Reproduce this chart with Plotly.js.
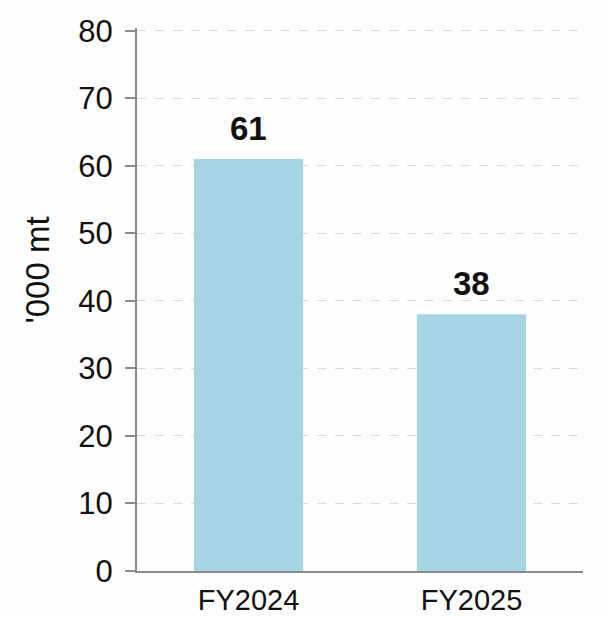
<!DOCTYPE html>
<html><head><meta charset="utf-8">
<script src="https://cdn.plot.ly/plotly-3.0.1.min.js"></script>
<style>html,body{margin:0;padding:0;background:#fdfdfd;}</style>
</head><body>
<div id="chart" style="width:608px;height:617px;"></div>
<script>
const categories = ["FY2024", "FY2025"];
const values = [61, 38];
const valueLabels = ["61", "38"];
const yTicks = [0, 10, 20, 30, 40, 50, 60, 70, 80];
const yTitle = "'000 mt";

const FONT = "'Liberation Sans', Arial, sans-serif";

const labelAnnotations = categories.map((c, i) => ({
  x: c, y: values[i], xref: "x", yref: "y",
  text: "<b>" + valueLabels[i] + "</b>",
  showarrow: false, yanchor: "bottom", yshift: 10,
  font: {family: FONT, size: 33, color: "#111"}
}));

Plotly.newPlot("chart", [{
  type: "bar",
  x: categories,
  y: values,
  marker: {color: "#a6d4e3"},
  hoverinfo: "none"
}], {
  width: 608, height: 617,
  margin: {l: 137, r: 25, t: 28, b: 46},
  paper_bgcolor: "#fdfdfd",
  plot_bgcolor: "#fdfdfd",
  bargap: 0.51,
  showlegend: false,
  font: {family: FONT, color: "#111"},
  xaxis: {
    type: "category",
    showline: true, linecolor: "#8a8a8a", linewidth: 2,
    ticks: "", showgrid: false,
    tickfont: {family: FONT, size: 29, color: "#111"},
    ticklabelstandoff: 2
  },
  yaxis: {
    range: [0, 80.4],
    tickvals: yTicks,
    showline: true, linecolor: "#8a8a8a", linewidth: 2,
    ticks: "outside", ticklen: 10, tickcolor: "#8a8a8a", tickwidth: 2,
    showgrid: true, gridcolor: "#d8d8d8", griddash: "dash", gridwidth: 1,
    zeroline: false,
    tickfont: {family: FONT, size: 31, color: "#111"},
    ticklabelstandoff: 6
  },
  annotations: labelAnnotations.concat([{
    xref: "paper", yref: "paper", x: -0.222, y: 0.555,
    xanchor: "center", yanchor: "middle", textangle: -90,
    text: yTitle, showarrow: false,
    font: {family: FONT, size: 33, color: "#111"}
  }])
}, {staticPlot: true, displayModeBar: false});
</script>
</body></html>
